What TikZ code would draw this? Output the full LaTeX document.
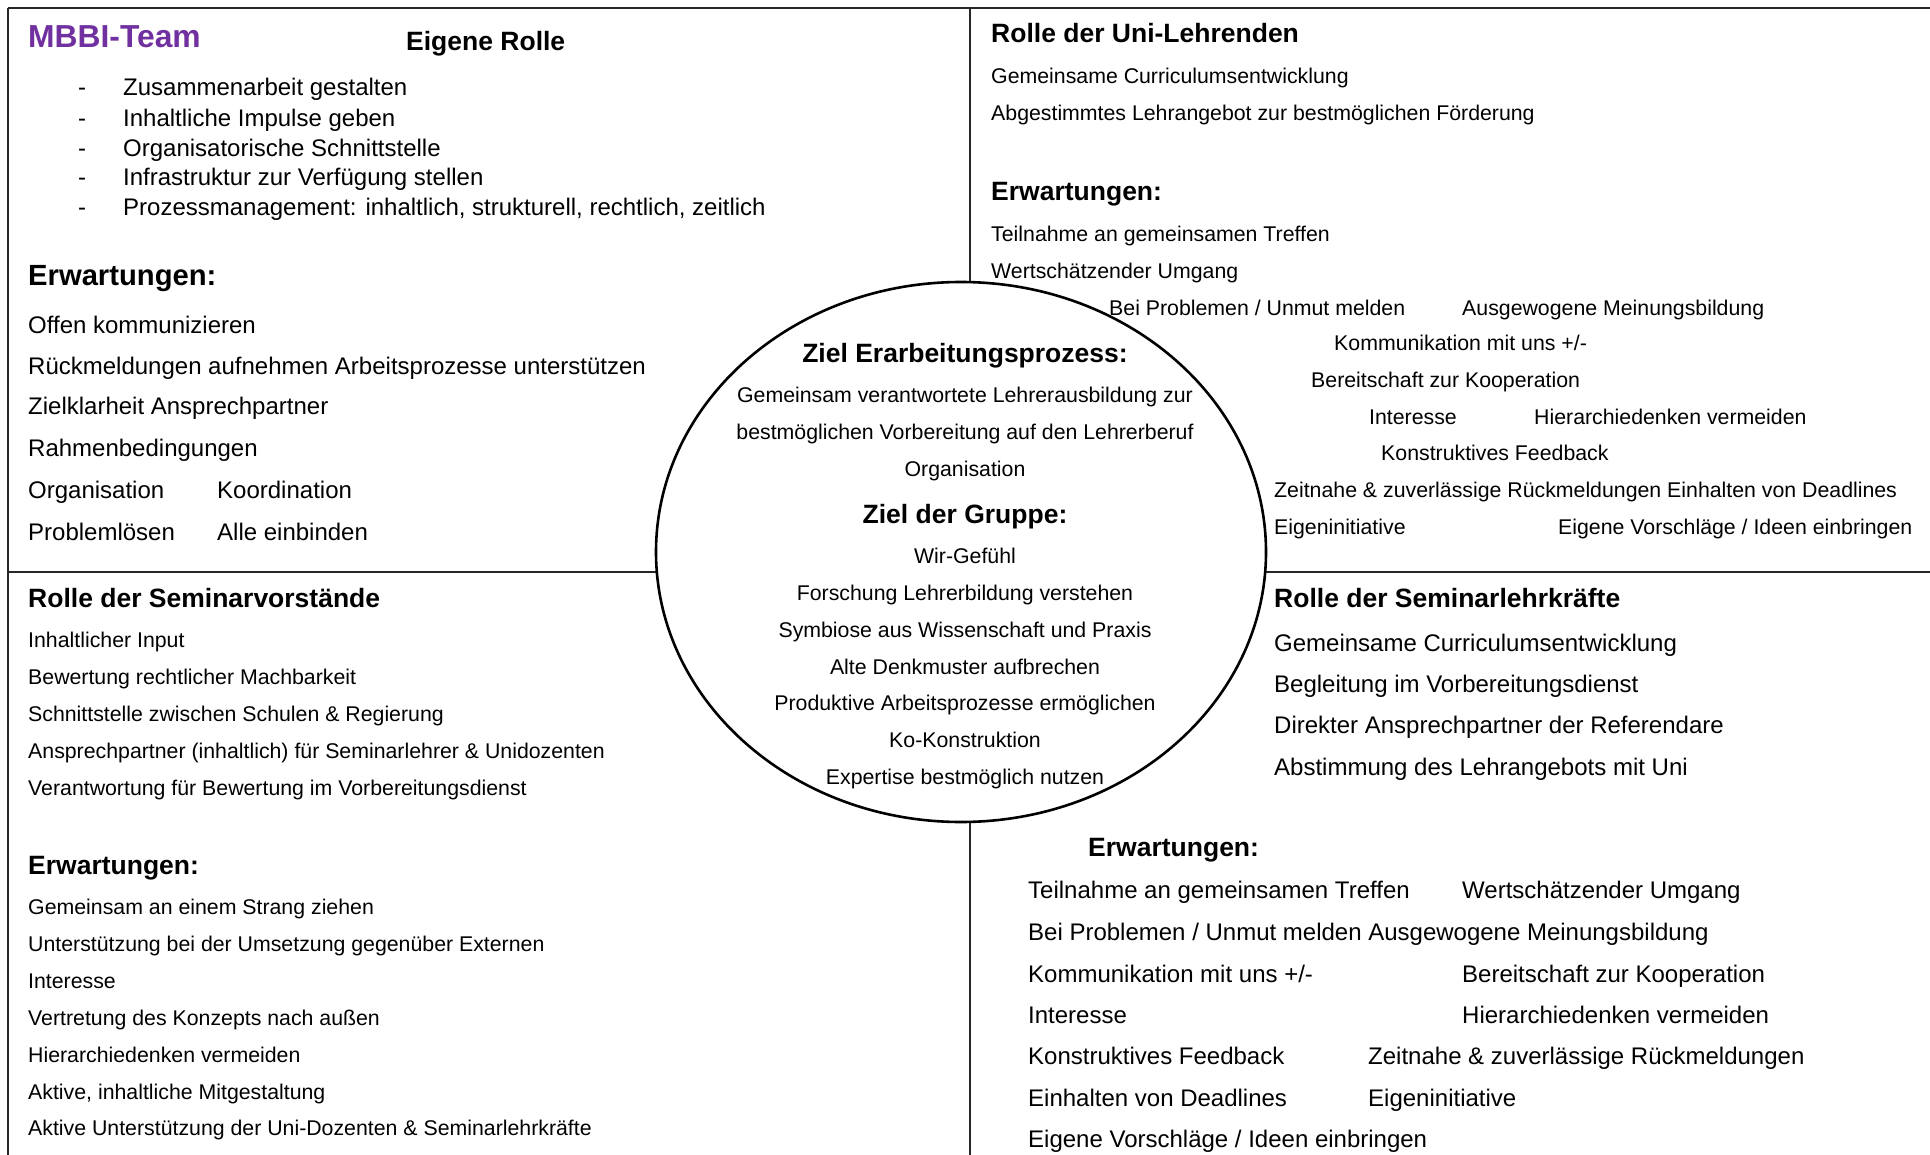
\documentclass[tikz,border=0pt]{standalone}
\usepackage{fontspec}
\setmainfont{Liberation Sans}
\usepackage{xcolor}
\usetikzlibrary{shapes.geometric}
\definecolor{mbbipurple}{RGB}{112,48,160}
\tikzset{
	frame/.style={line width=1.5pt, black!85},
	goalbox/.style={draw, ellipse, fill=white, line width=2.6pt, minimum width=610pt, minimum height=540pt, inner sep=0pt},
	smalltxt/.style={anchor=west, inner sep=0pt, yshift=-2.5pt, font=\fontsize{21.3}{21.3}\selectfont, text height=15.3pt, text depth=4.5pt},
	bigtxt/.style={anchor=west, inner sep=0pt, yshift=-2.5pt, font=\fontsize{24}{24}\selectfont, text height=17.3pt, text depth=5pt},
	headtxt/.style={anchor=west, inner sep=0pt, yshift=-2.5pt, font=\fontsize{26.5}{26.5}\selectfont\bfseries, text height=19pt, text depth=5.6pt},
	erwtxt/.style={anchor=west, inner sep=0pt, yshift=-2.5pt, font=\fontsize{29.2}{29.2}\selectfont\bfseries, text height=21pt, text depth=6.1pt},
	teamtxt/.style={anchor=west, inner sep=0pt, yshift=-2.5pt, font=\fontsize{31.8}{31.8}\selectfont\bfseries, text height=22.9pt, text depth=6.7pt, text=mbbipurple},
	mid/.style={anchor=center}
}
\newcommand{\dashitem}[1]{\makebox[45pt][l]{-}#1}

\begin{document}
\begin{tikzpicture}[x=1pt,y=-1pt]
	\useasboundingbox (0,0) rectangle (1930,1155);
	% frame and dividers
	\coordinate (tl) at (8,8);
	\coordinate (tr) at (1930,8);
	\coordinate (bl) at (8,1155);
	\coordinate (tm) at (970,8);
	\coordinate (bm) at (970,1155);
	\coordinate (lm) at (8,572);
	\coordinate (rm) at (1930,572);
	\draw[frame] (tl) -- (tr);
	\draw[frame] (tl) -- (bl);
	\draw[frame] (tm) -- (bm);
	\draw[frame] (lm) -- (rm);
	\node[goalbox] (goal) at (961,552) {};

	% MBBI-Team
	\node[teamtxt] (team) at (28,37) {MBBI-Team};
	\node[headtxt] (eigen) at (406,41) {Eigene Rolle};
	\node[bigtxt] (e1) at (78,87) {\dashitem{Zusammenarbeit gestalten}};
	\node[bigtxt] (e2) at (78,118) {\dashitem{Inhaltliche Impulse geben}};
	\node[bigtxt] (e3) at (78,148) {\dashitem{Organisatorische Schnittstelle}};
	\node[bigtxt] (e4) at (78,177) {\dashitem{Infrastruktur zur Verfügung stellen}};
	\node[bigtxt] (e5) at (78,207) {\dashitem{Prozessmanagement: inhaltlich, strukturell, rechtlich, zeitlich}};
	\node[erwtxt] (teamerw) at (28,276) {Erwartungen:};
	\node[bigtxt] (t1) at (28,325) {Offen kommunizieren};
	\node[bigtxt] (t2) at (28,366) {Rückmeldungen aufnehmen Arbeitsprozesse unterstützen};
	\node[bigtxt] (t3) at (28,406) {Zielklarheit Ansprechpartner};
	\node[bigtxt] (t4) at (28,448) {Rahmenbedingungen};
	\node[bigtxt] (t5) at (28,490) {Organisation};
	\node[bigtxt] (t6) at (217,490) {Koordination};
	\node[bigtxt] (t7) at (28,532) {Problemlösen};
	\node[bigtxt] (t8) at (217,532) {Alle einbinden};

	% Uni-Lehrende
	\node[headtxt] (uni) at (991,33) {Rolle der Uni-Lehrenden};
	\node[smalltxt] (u1) at (991,76) {Gemeinsame Curriculumsentwicklung};
	\node[smalltxt] (u2) at (991,113) {Abgestimmtes Lehrangebot zur bestmöglichen Förderung};
	\node[headtxt] (unierw) at (991,191) {Erwartungen:};
	\node[smalltxt] (ue1) at (991,234) {Teilnahme an gemeinsamen Treffen};
	\node[smalltxt] (ue2) at (991,271) {Wertschätzender Umgang};
	\node[smalltxt] (ue3) at (1109,308) {Bei Problemen / Unmut melden};
	\node[smalltxt] (ue4) at (1462,308) {Ausgewogene Meinungsbildung};
	\node[smalltxt] (ue5) at (1334,343) {Kommunikation mit uns +/-};
	\node[smalltxt] (ue6) at (1311,380) {Bereitschaft zur Kooperation};
	\node[smalltxt] (ue7) at (1369,417) {Interesse};
	\node[smalltxt] (ue8) at (1534,417) {Hierarchiedenken vermeiden};
	\node[smalltxt] (ue9) at (1381,453) {Konstruktives Feedback};
	\node[smalltxt] (ue10) at (1274,490) {Zeitnahe \& zuverlässige Rückmeldungen Einhalten von Deadlines};
	\node[smalltxt] (ue11) at (1274,527) {Eigeninitiative};
	\node[smalltxt] (ue12) at (1558,527) {Eigene Vorschläge / Ideen einbringen};

	% Ziele in der Mitte
	\node[headtxt,mid] (ziel1) at (965,353) {Ziel Erarbeitungsprozess:};
	\node[smalltxt,mid] (z1) at (965,395) {Gemeinsam verantwortete Lehrerausbildung zur};
	\node[smalltxt,mid] (z2) at (965,432) {bestmöglichen Vorbereitung auf den Lehrerberuf};
	\node[smalltxt,mid] (z3) at (965,469) {Organisation};
	\node[headtxt,mid] (ziel2) at (965,514) {Ziel der Gruppe:};
	\node[smalltxt,mid] (g1) at (965,556) {Wir-Gefühl};
	\node[smalltxt,mid] (g2) at (965,593) {Forschung Lehrerbildung verstehen};
	\node[smalltxt,mid] (g3) at (965,630) {Symbiose aus Wissenschaft und Praxis};
	\node[smalltxt,mid] (g4) at (965,667) {Alte Denkmuster aufbrechen};
	\node[smalltxt,mid] (g5) at (965,703) {Produktive Arbeitsprozesse ermöglichen};
	\node[smalltxt,mid] (g6) at (965,740) {Ko-Konstruktion};
	\node[smalltxt,mid] (g7) at (965,777) {Expertise bestmöglich nutzen};

	% Seminarvorstaende
	\node[headtxt] (sv) at (28,598) {Rolle der Seminarvorstände};
	\node[smalltxt] (s1) at (28,640) {Inhaltlicher Input};
	\node[smalltxt] (s2) at (28,677) {Bewertung rechtlicher Machbarkeit};
	\node[smalltxt] (s3) at (28,714) {Schnittstelle zwischen Schulen \& Regierung};
	\node[smalltxt] (s4) at (28,751) {Ansprechpartner (inhaltlich) für Seminarlehrer \& Unidozenten};
	\node[smalltxt] (s5) at (28,788) {Verantwortung für Bewertung im Vorbereitungsdienst};
	\node[headtxt] (sverw) at (28,865) {Erwartungen:};
	\node[smalltxt] (se1) at (28,907) {Gemeinsam an einem Strang ziehen};
	\node[smalltxt] (se2) at (28,944) {Unterstützung bei der Umsetzung gegenüber Externen};
	\node[smalltxt] (se3) at (28,981) {Interesse};
	\node[smalltxt] (se4) at (28,1018) {Vertretung des Konzepts nach außen};
	\node[smalltxt] (se5) at (28,1055) {Hierarchiedenken vermeiden};
	\node[smalltxt] (se6) at (28,1092) {Aktive, inhaltliche Mitgestaltung};
	\node[smalltxt] (se7) at (28,1128) {Aktive Unterstützung der Uni-Dozenten \& Seminarlehrkräfte};

	% Seminarlehrkraefte
	\node[headtxt] (sl) at (1274,598) {Rolle der Seminarlehrkräfte};
	\node[bigtxt] (l1) at (1274,643) {Gemeinsame Curriculumsentwicklung};
	\node[bigtxt] (l2) at (1274,684) {Begleitung im Vorbereitungsdienst};
	\node[bigtxt] (l3) at (1274,725) {Direkter Ansprechpartner der Referendare};
	\node[bigtxt] (l4) at (1274,767) {Abstimmung des Lehrangebots mit Uni};
	\node[headtxt] (slerw) at (1088,847) {Erwartungen:};
	\node[bigtxt] (le1) at (1028,890) {Teilnahme an gemeinsamen Treffen};
	\node[bigtxt] (le2) at (1462,890) {Wertschätzender Umgang};
	\node[bigtxt] (le3) at (1028,932) {Bei Problemen / Unmut melden Ausgewogene Meinungsbildung};
	\node[bigtxt] (le4) at (1028,974) {Kommunikation mit uns +/-};
	\node[bigtxt] (le5) at (1462,974) {Bereitschaft zur Kooperation};
	\node[bigtxt] (le6) at (1028,1015) {Interesse};
	\node[bigtxt] (le7) at (1462,1015) {Hierarchiedenken vermeiden};
	\node[bigtxt] (le8) at (1028,1056) {Konstruktives Feedback};
	\node[bigtxt] (le9) at (1368,1056) {Zeitnahe \& zuverlässige Rückmeldungen};
	\node[bigtxt] (le10) at (1028,1098) {Einhalten von Deadlines};
	\node[bigtxt] (le11) at (1368,1098) {Eigeninitiative};
	\node[bigtxt] (le12) at (1028,1139) {Eigene Vorschläge / Ideen einbringen};
\end{tikzpicture}
\end{document}
